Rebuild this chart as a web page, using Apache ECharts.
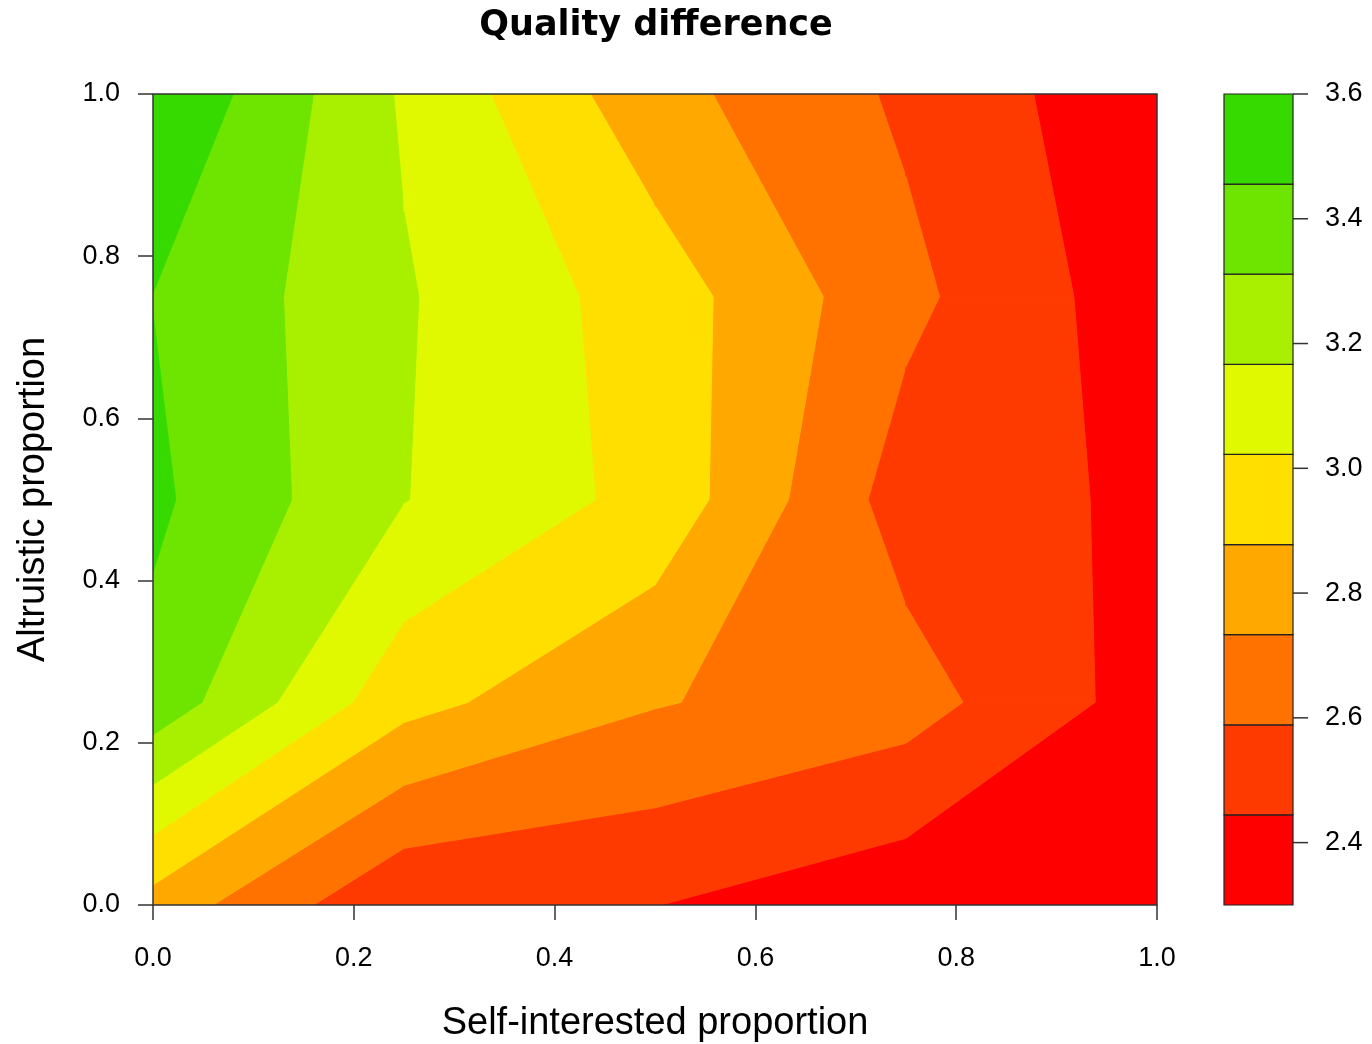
<!DOCTYPE html>
<html>
<head>
<meta charset="utf-8">
<script src="https://cdn.jsdelivr.net/npm/echarts@6/dist/echarts.min.js"></script>
<style>html,body{margin:0;padding:0;background:#ffffff}#chart{width:1372px;height:1044px}</style>
</head>
<body>
<div id="chart"></div>
<script>
// ---- data ----
const xValues = [0, 0.25, 0.5, 0.75, 1];          // Self-interested proportion
const yValues = [0, 0.25, 0.5, 0.75, 1];          // Altruistic proportion
// quality difference, one row per y value (y = 0 ... 1), columns follow xValues
const zAtY000 = [2.820, 2.459, 2.447, 2.343, 2.300];
const zAtY025 = [3.405, 2.924, 2.743, 2.651, 2.377];
const zAtY050 = [3.484, 3.171, 2.976, 2.520, 2.417];
const zAtY075 = [3.453, 3.180, 2.954, 2.625, 2.355];
const zAtY100 = [3.600, 3.148, 2.784, 2.564, 2.329];
const axisTickValues = [0, 0.2, 0.4, 0.6, 0.8, 1.0];
const colorbarTickValues = [2.4, 2.6, 2.8, 3.0, 3.2, 3.4, 3.6];
const levelCount = 10;

// ---- styles ----
const bandColors = ['#FF0000', '#FF3A00', '#FF7200', '#FFA900', '#FFDF00',
                    '#E1F900', '#A9F000', '#6EE500', '#37DA00'];
const FONT = 'Liberation Sans, Arial, sans-serif';

// ---- contour bands (filled.contour style: straight segments inside each cell) ----
const zRows = [zAtY000, zAtY025, zAtY050, zAtY075, zAtY100];
const allZ = [].concat(...zRows);
const zMin = Math.min(...allZ), zMax = Math.max(...allZ);
const levels = [];
for (let k = 0; k < levelCount; k++) levels.push(zMin + (zMax - zMin) * k / (levelCount - 1));

function clipPoly(poly, level, keepAbove) {
  const out = [];
  for (let a = 0; a < poly.length; a++) {
    const P = poly[a], Q = poly[(a + 1) % poly.length];
    const pin = keepAbove ? P[2] >= level : P[2] <= level;
    const qin = keepAbove ? Q[2] >= level : Q[2] <= level;
    if (pin) out.push(P);
    if (pin !== qin) {
      const t = (level - P[2]) / (Q[2] - P[2]);
      out.push([P[0] + t * (Q[0] - P[0]), P[1] + t * (Q[1] - P[1]), level]);
    }
  }
  return out;
}

const polys = [];
for (let j = 0; j < yValues.length - 1; j++) {
  for (let i = 0; i < xValues.length - 1; i++) {
    const cell = [
      [xValues[i], yValues[j], zRows[j][i]],
      [xValues[i + 1], yValues[j], zRows[j][i + 1]],
      [xValues[i + 1], yValues[j + 1], zRows[j + 1][i + 1]],
      [xValues[i], yValues[j + 1], zRows[j + 1][i]]
    ];
    for (let k = 0; k < levelCount - 1; k++) {
      let p = clipPoly(cell, levels[k], true);
      if (p.length >= 3) p = clipPoly(p, levels[k + 1], false);
      if (p.length >= 3) {
        polys.push({
          band: k, pts: p,
          cx: (xValues[i] + xValues[i + 1]) / 2, cy: (yValues[j] + yValues[j + 1]) / 2
        });
      }
    }
  }
}

const chart = echarts.init(document.getElementById('chart'), null, {renderer: 'canvas'});
const tickStyle = {color: '#333333', width: 1.5};

const option = {
  backgroundColor: '#ffffff',
  animation: false,
  graphic: [{
    type: 'text', x: 656, y: 26, z: 100,
    style: {
      text: 'Quality difference', textAlign: 'center', textVerticalAlign: 'middle',
      fontFamily: 'DejaVu Sans', fontWeight: 'bold', fontSize: 35, fill: '#000000'
    }
  }],
  grid: [
    {left: 153, top: 94, width: 1004, height: 811, containLabel: false, outerBoundsMode: 'none'},
    {left: 1224, top: 94, width: 69, height: 811, containLabel: false, outerBoundsMode: 'none'}
  ],
  xAxis: [{
    gridIndex: 0, type: 'value', min: 0, max: 1, interval: 0.2,
    axisLine: {show: false},
    axisTick: {show: true, length: 15, lineStyle: tickStyle},
    axisLabel: {fontSize: 27, color: '#000', fontFamily: FONT, margin: 40,
                formatter: v => v.toFixed(1)},
    splitLine: {show: false},
    name: 'Self-interested proportion', nameLocation: 'middle', nameGap: 100,
    nameTextStyle: {fontSize: 38, color: '#000', fontFamily: FONT}
  }, {
    gridIndex: 1, type: 'value', min: 0, max: 1, show: false
  }],
  yAxis: [{
    gridIndex: 0, type: 'value', min: 0, max: 1, interval: 0.2,
    axisLine: {show: false},
    axisTick: {show: true, length: 15, lineStyle: tickStyle},
    axisLabel: {fontSize: 27, color: '#000', fontFamily: FONT, margin: 33,
                formatter: v => v.toFixed(1)},
    splitLine: {show: false},
    name: 'Altruistic proportion', nameLocation: 'middle', nameGap: 100, nameRotate: 90,
    nameTextStyle: {fontSize: 38, color: '#000', fontFamily: FONT}
  }, {
    gridIndex: 1, type: 'value', position: 'right', min: zMin, max: zMax,
    axisLine: {show: false},
    axisTick: {show: false},
    axisLabel: {fontSize: 27, color: '#000', fontFamily: FONT, margin: 32,
                customValues: colorbarTickValues, formatter: v => v.toFixed(1)},
    splitLine: {show: false}
  }],
  series: [{
    type: 'custom', xAxisIndex: 0, yAxisIndex: 0, silent: true, clip: true, z: 2,
    data: polys.map((p, idx) => [p.cx, p.cy, p.band, idx]),
    renderItem: function (params, api) {
      const p = polys[params.dataIndex];
      const pts = p.pts.map(v => api.coord([v[0], v[1]]));
      return {
        type: 'polygon', shape: {points: pts},
        style: {fill: bandColors[p.band], stroke: bandColors[p.band], lineWidth: 1}
      };
    }
  }, {
    type: 'custom', xAxisIndex: 0, yAxisIndex: 0, silent: true, z: 5,
    data: [[0.5, 0.5]],
    renderItem: function (params) {
      const c = params.coordSys;
      return {
        type: 'rect', shape: {x: c.x, y: c.y, width: c.width, height: c.height},
        style: {fill: null, stroke: '#333333', lineWidth: 1.5}
      };
    }
  }, {
    type: 'custom', xAxisIndex: 1, yAxisIndex: 1, silent: true, z: 3,
    data: bandColors.map((c, k) => [0.5, (levels[k] + levels[k + 1]) / 2, k]),
    renderItem: function (params, api) {
      const k = api.value(2);
      const p0 = api.coord([0, levels[k]]);
      const p1 = api.coord([1, levels[k + 1]]);
      return {
        type: 'rect',
        shape: {x: p0[0], y: p1[1], width: p1[0] - p0[0], height: p0[1] - p1[1]},
        style: {fill: bandColors[k], stroke: '#222222', lineWidth: 1.2}
      };
    }
  }, {
    type: 'custom', xAxisIndex: 1, yAxisIndex: 1, silent: true, z: 4, clip: false,
    data: colorbarTickValues.map(v => [1, v]),
    renderItem: function (params, api) {
      const p = api.coord([1, api.value(1)]);
      return {
        type: 'line', shape: {x1: p[0], y1: p[1], x2: p[0] + 15, y2: p[1]},
        style: {stroke: '#333333', lineWidth: 1.5}
      };
    }
  }]
};
chart.setOption(option);
</script>
</body>
</html>
